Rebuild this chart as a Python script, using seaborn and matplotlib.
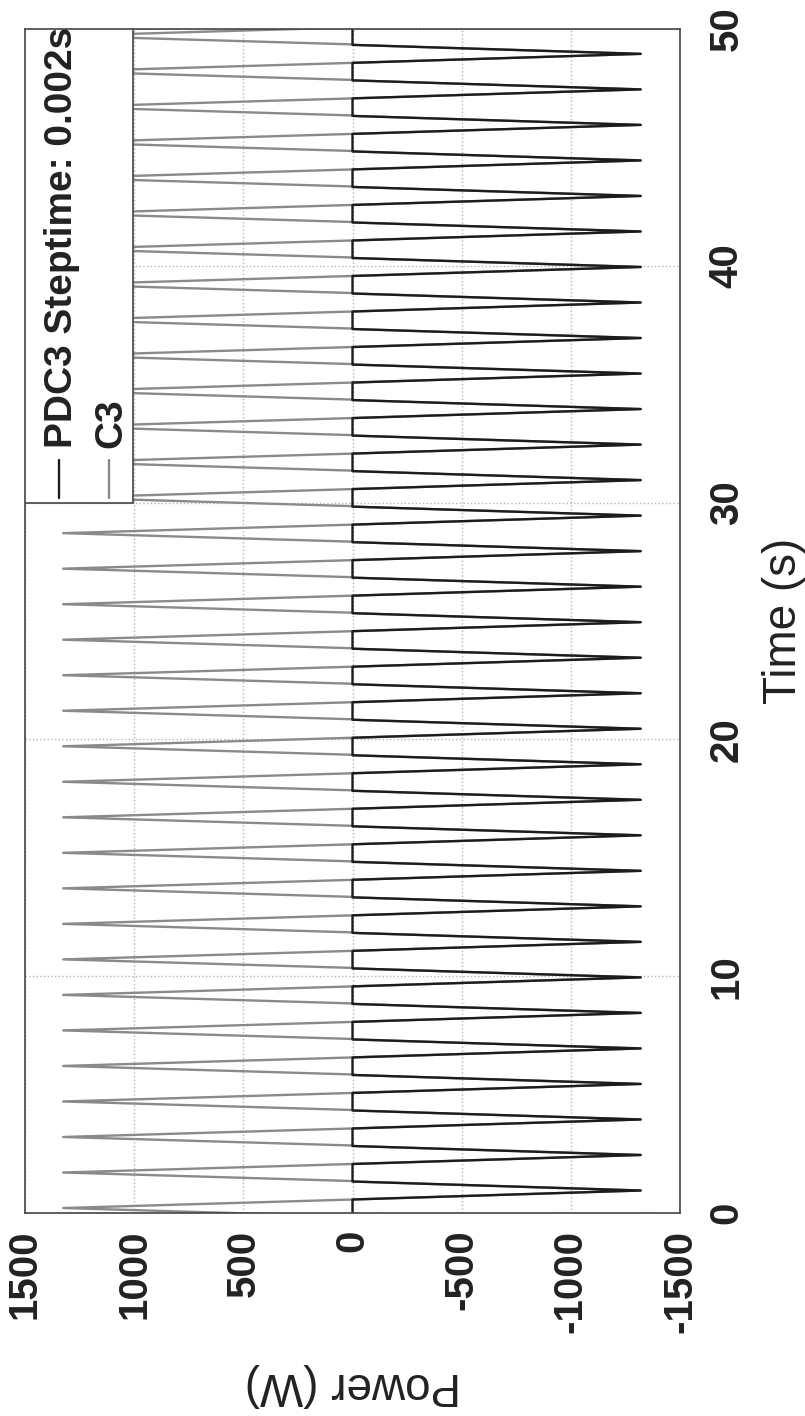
import numpy as np
import pandas as pd
import matplotlib
matplotlib.use("Agg")
import matplotlib.pyplot as plt
from matplotlib.patches import Rectangle
from matplotlib.lines import Line2D
import seaborn as sns

# --- data -------------------------------------------------------------
# times (s) of the positive (C3 only) and negative (both traces) power peaks
pos_tip_t = [0.21, 1.71, 3.21, 4.71, 6.21, 7.71, 9.21, 10.71, 12.21, 13.71,
             15.21, 16.71, 18.21, 19.71, 21.21, 22.71, 24.21, 25.71, 27.21,
             28.71, 30.21, 31.71, 33.21, 34.71, 36.21, 37.71, 39.21, 40.71,
             42.21, 43.71, 45.21, 46.71, 48.21, 49.71]
neg_tip_t = [0.95, 2.45, 3.95, 5.45, 6.95, 8.45, 9.95, 11.45, 12.95, 14.45,
             15.95, 17.45, 18.95, 20.45, 21.95, 23.45, 24.95, 26.45, 27.95,
             29.45, 30.95, 32.45, 33.95, 35.45, 36.95, 38.45, 39.95, 41.45,
             42.95, 44.45, 45.95, 47.45, 48.95]
pos_peak_w = 1325.0     # positive peak power (W)
neg_peak_w = -1320.0    # negative peak power (W)
pos_half_s = 0.36       # half width of a positive pulse (s)
neg_half_s = 0.38       # half width of a negative pulse (s)

series_names = ["PDC3 Steptime: 0.002s", "C3"]
power_ticks = [1500, 1000, 500, 0, -500, -1000, -1500]
power_tick_labels = ["1500", "1000", "500", "0", "-500", "-1000", "-1500"]
time_ticks = [0, 10, 20, 30, 40, 50]
time_tick_labels = ["0", "10", "20", "30", "40", "50"]

# --- build the two traces ------------------------------------------------
c3_t, c3_p = [], []
for i, tp in enumerate(pos_tip_t):
    c3_t += [tp - pos_half_s, tp, tp + pos_half_s]
    c3_p += [0.0, pos_peak_w, 0.0]
    if i < len(neg_tip_t):
        tn = neg_tip_t[i]
        c3_t += [tn, tn + neg_half_s]
        c3_p += [neg_peak_w, 0.0]

pdc_t, pdc_p = [pos_tip_t[0] - pos_half_s], [0.0]
for tn in neg_tip_t:
    pdc_t += [tn - neg_half_s, tn, tn + neg_half_s]
    pdc_p += [0.0, neg_peak_w, 0.0]
pdc_t.append(pos_tip_t[-1] + pos_half_s)
pdc_p.append(0.0)

df_c3 = pd.DataFrame({"time": c3_t, "power": c3_p})
df_pdc = pd.DataFrame({"time": pdc_t, "power": pdc_p})

# --- style ---------------------------------------------------------------
sns.set_theme(style="white")
plt.rcParams["font.family"] = ["Liberation Sans", "DejaVu Sans"]
plt.rcParams["font.weight"] = "bold"
plt.rcParams["axes.unicode_minus"] = False

c_pdc = "#1c1c1c"
c_c3 = "#8a8a8a"

fig = plt.figure(figsize=(8.05, 14.16), dpi=100)
ax = fig.add_axes([25 / 805, 1 - 1213 / 1416, 655 / 805, 1184 / 1416])

sns.lineplot(data=df_c3, x="power", y="time", sort=False, estimator=None,
             orient="y", color=c_c3, lw=1.7, ax=ax)
sns.lineplot(data=df_pdc, x="power", y="time", sort=False, estimator=None,
             orient="y", color=c_pdc, lw=1.7, ax=ax)

ax.set_xlim(1500, -1500)
ax.set_ylim(0, 50)
ax.set_xticks(power_ticks)
ax.set_xticklabels(power_tick_labels)
ax.set_yticks(time_ticks)
ax.set_yticklabels(time_tick_labels)

ax.grid(True, color="#b5b5b5", linestyle=":", linewidth=1.0)
ax.set_axisbelow(True)
for s in ax.spines.values():
    s.set_color("#444444")
    s.set_linewidth(1.2)

ax.yaxis.tick_right()
ax.yaxis.set_label_position("right")
ax.tick_params(axis="both", length=0, labelsize=29, colors="#222222")
ax.tick_params(axis="x", labelrotation=90, pad=12)
ax.tick_params(axis="y", labelrotation=90, pad=20)
for lab in ax.get_yticklabels():
    lab.set_va("center")
    lab.set_ha("left")

ax.set_xlabel("Power (W)", fontsize=33, rotation=180, labelpad=22,
              color="#222222")
ax.set_ylabel("Time (s)", fontsize=33, rotation=90, labelpad=12,
              color="#222222")

# legend box in the upper-left corner, entries written bottom-to-top
box = Rectangle((0, 0.5997), 0.165, 0.4003, transform=ax.transAxes,
                facecolor="white", edgecolor="#444444", lw=1.2, zorder=5)
ax.add_patch(box)
leg_x = [0.052, 0.128]
leg_colors = [c_pdc, c_c3]
for xx, name, col in zip(leg_x, series_names, leg_colors):
    ax.add_line(Line2D([xx, xx], [0.604, 0.636], transform=ax.transAxes,
                       color=col, lw=1.7, zorder=6))
    ax.text(xx + 0.004, 0.646, name, transform=ax.transAxes, rotation=90,
            ha="center", va="bottom", fontsize=28, color="#222222", zorder=6)

fig.savefig("out.png", dpi=100, facecolor="white")
